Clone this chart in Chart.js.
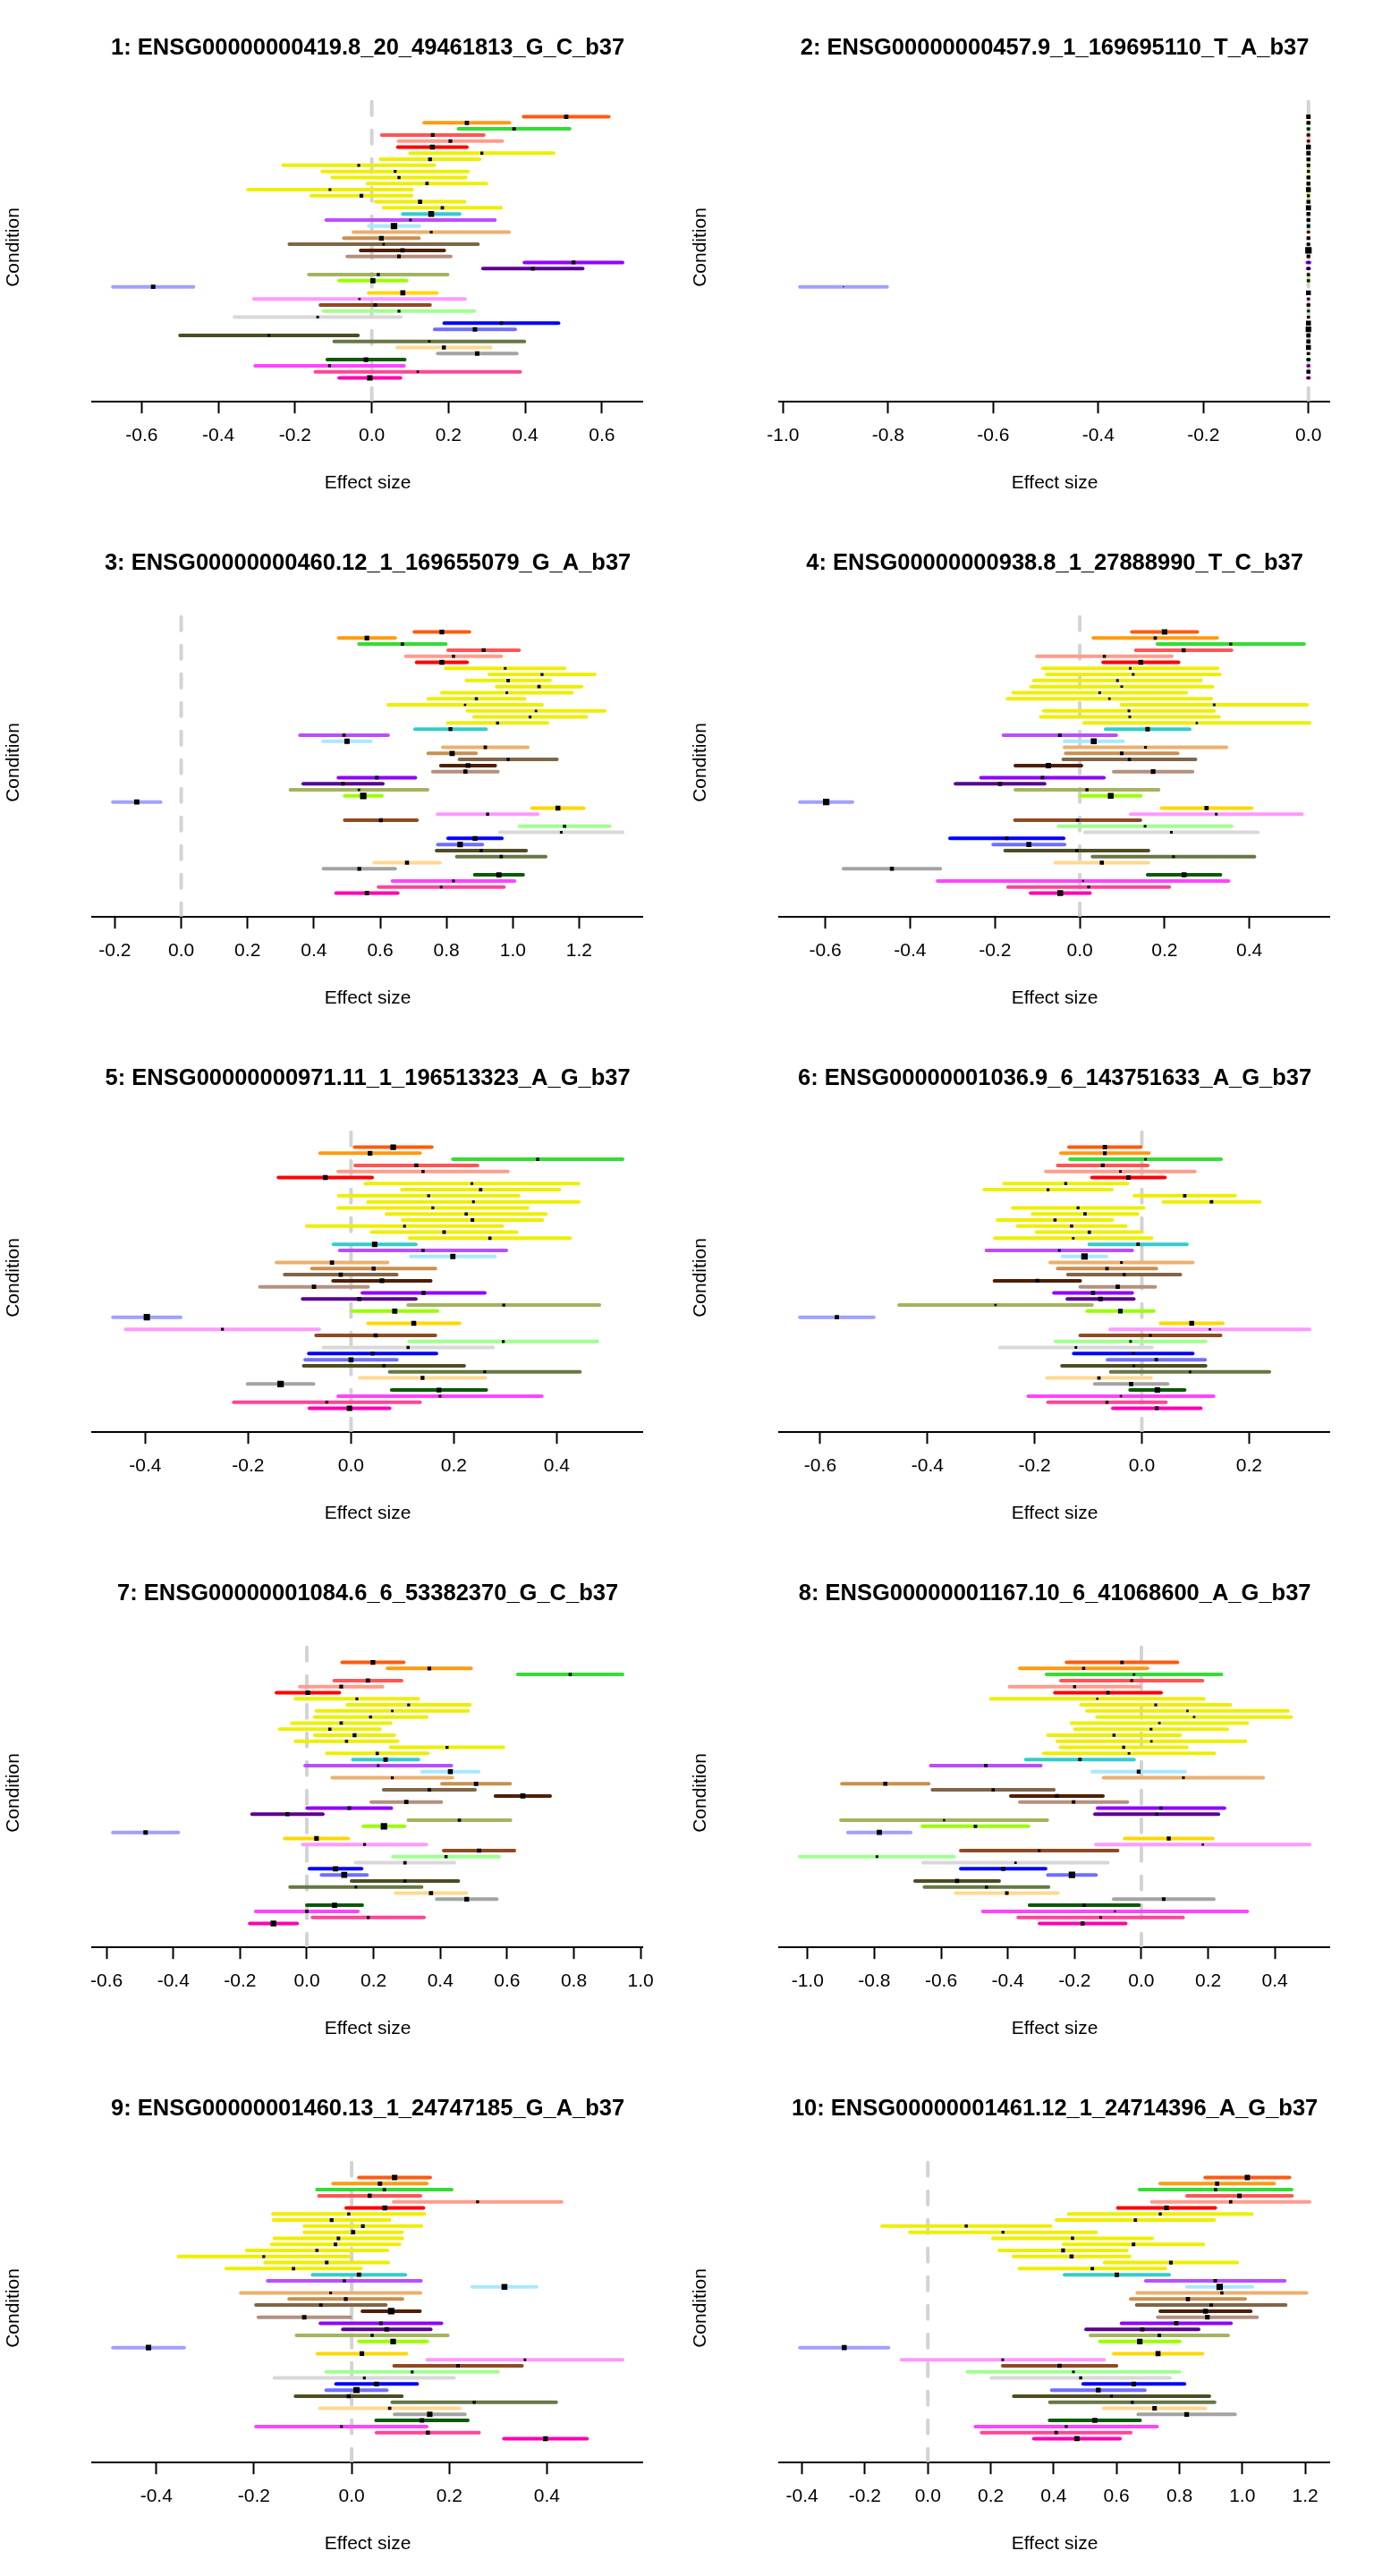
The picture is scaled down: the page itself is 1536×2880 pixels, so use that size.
<!DOCTYPE html>
<html>
<head>
<meta charset="utf-8">
<script src="https://cdn.jsdelivr.net/npm/chart.js@4.4.1/dist/chart.umd.min.js"></script>
<style>
html,body{margin:0;padding:0;background:#ffffff;}
#wrap{position:relative;width:1536px;height:2880px;background:#ffffff;overflow:hidden;}
#wrap canvas{position:absolute;}
</style>
</head>
<body>
<div id="wrap"></div>
<script>
// ---------------- DATA ----------------
const tissues = ["Adipose_Subcutaneous","Adipose_Visceral_Omentum","Adrenal_Gland","Artery_Aorta","Artery_Coronary","Artery_Tibial",
"Brain_Anterior_cingulate_cortex_BA24","Brain_Caudate_basal_ganglia","Brain_Cerebellar_Hemisphere","Brain_Cerebellum","Brain_Cortex",
"Brain_Frontal_Cortex_BA9","Brain_Hippocampus","Brain_Hypothalamus","Brain_Nucleus_accumbens_basal_ganglia","Brain_Putamen_basal_ganglia",
"Breast_Mammary_Tissue","Cells_EBV-transformed_lymphocytes","Cells_Transformed_fibroblasts","Colon_Sigmoid","Colon_Transverse",
"Esophagus_Gastroesophageal_Junction","Esophagus_Mucosa","Esophagus_Muscularis","Heart_Atrial_Appendage","Heart_Left_Ventricle",
"Liver","Lung","Muscle_Skeletal","Nerve_Tibial","Ovary","Pancreas","Pituitary","Prostate","Skin_Not_Sun_Exposed_Suprapubic",
"Skin_Sun_Exposed_Lower_leg","Small_Intestine_Terminal_Ileum","Spleen","Stomach","Testis","Thyroid","Uterus","Vagina","Whole_Blood"];

const panelTitles = [
"1: ENSG00000000419.8_20_49461813_G_C_b37",
"2: ENSG00000000457.9_1_169695110_T_A_b37",
"3: ENSG00000000460.12_1_169655079_G_A_b37",
"4: ENSG00000000938.8_1_27888990_T_C_b37",
"5: ENSG00000000971.11_1_196513323_A_G_b37",
"6: ENSG00000001036.9_6_143751633_A_G_b37",
"7: ENSG00000001084.6_6_53382370_G_C_b37",
"8: ENSG00000001167.10_6_41068600_A_G_b37",
"9: ENSG00000001460.13_1_24747185_G_A_b37",
"10: ENSG00000001461.12_1_24714396_A_G_b37"];

const xAxisTitle = "Effect size";
const yAxisTitle = "Condition";

// effect estimates (mean) and 95% CI half-widths per panel
const p1Mean = [0.507,0.248,0.371,0.159,0.205,0.158,0.287,0.152,-0.034,0.061,0.071,0.144,-0.109,-0.027,0.126,0.184,0.155,0.101,0.058,0.155,0.025,0.031,0.080,0.071,0.526,0.420,0.017,0.003,-0.570,0.081,-0.032,0.009,0.071,-0.141,0.338,0.269,-0.268,0.150,0.188,0.275,-0.015,-0.110,0.120,-0.005];
const p1Half = [0.111,0.111,0.145,0.133,0.135,0.090,0.187,0.129,0.197,0.190,0.174,0.155,0.214,0.131,0.116,0.153,0.074,0.220,0.066,0.203,0.098,0.246,0.109,0.135,0.128,0.130,0.181,0.088,0.105,0.089,0.275,0.143,0.197,0.217,0.149,0.105,0.232,0.248,0.122,0.103,0.101,0.194,0.267,0.080];

const p2Mean = [0,0,0,0,0,0,0,0,0,0,0,0,0,0,0,0,0,0,0,0,0,0,0,0,0,0,0,0,-0.885,0,0,0,0,0,0,0,0,0,0,0,0,0,0,0];
const p2Half = [0.00066,0.00076,0.00126,0.00126,0.00126,0.00058,0.00066,0.00076,0.0009,0.0012,0.00076,0.00076,0.00058,0.0012,0.00076,0.00054,0.00076,0.00086,0.0009,0.0013,0.00086,0.0011,0.0004,0.0009,0.0022,0.0013,0.0012,0.0012,0.083,0.00058,0.0013,0.0011,0.0013,0.0011,0.00056,0.00048,0.00072,0.00072,0.00056,0.0012,0.0013,0.0014,0.00076,0.0013];

const p3Mean = [0.786,0.560,0.667,0.912,0.821,0.786,0.977,1.088,0.986,1.079,0.982,0.890,0.856,1.070,1.052,0.954,0.812,0.491,0.500,0.917,0.817,0.986,0.865,0.857,0.590,0.488,0.536,0.549,-0.134,1.136,0.924,0.602,1.156,1.146,0.886,0.841,0.905,0.965,0.681,0.537,0.958,0.821,0.784,0.560];
const p3Half = [0.083,0.085,0.131,0.107,0.144,0.076,0.179,0.159,0.126,0.128,0.196,0.145,0.232,0.207,0.169,0.150,0.107,0.133,0.072,0.128,0.072,0.147,0.082,0.098,0.116,0.120,0.207,0.056,0.072,0.078,0.151,0.109,0.136,0.185,0.081,0.067,0.135,0.134,0.099,0.108,0.073,0.184,0.189,0.093];

const p4Mean = [0.200,0.178,0.356,0.245,0.058,0.144,0.119,0.126,0.089,0.099,0.047,0.070,0.317,0.116,0.118,0.276,0.160,-0.047,0.033,0.155,0.099,0.117,-0.074,0.173,-0.088,-0.188,0.017,0.073,-0.598,0.299,0.322,-0.005,0.154,0.216,-0.172,-0.120,-0.007,0.221,0.052,-0.443,0.246,0.008,0.021,-0.046];
const p4Half = [0.077,0.146,0.173,0.113,0.159,0.089,0.206,0.204,0.197,0.214,0.204,0.240,0.219,0.201,0.210,0.266,0.099,0.133,0.069,0.191,0.132,0.156,0.078,0.093,0.145,0.105,0.169,0.071,0.062,0.106,0.202,0.148,0.204,0.204,0.134,0.084,0.169,0.191,0.110,0.114,0.086,0.343,0.190,0.070];

const p5Mean = [0.082,0.037,0.363,0.127,0.140,-0.050,0.235,0.252,0.151,0.238,0.159,0.224,0.236,0.104,0.181,0.270,0.046,0.140,0.198,-0.037,0.044,-0.020,0.060,-0.072,0.141,0.016,0.297,0.085,-0.397,0.122,-0.250,0.048,0.296,0.111,0.042,0.000,0.064,0.260,0.139,-0.137,0.171,0.173,-0.047,-0.003];
const p5Half = [0.075,0.097,0.165,0.119,0.165,0.091,0.207,0.153,0.175,0.205,0.184,0.155,0.136,0.190,0.141,0.156,0.080,0.162,0.082,0.108,0.120,0.109,0.095,0.105,0.119,0.110,0.186,0.083,0.066,0.089,0.188,0.116,0.183,0.165,0.124,0.089,0.156,0.185,0.122,0.064,0.092,0.198,0.181,0.078];

const p6Mean = [-0.069,-0.069,0.007,-0.073,-0.040,-0.025,-0.142,-0.175,0.080,0.130,-0.119,-0.106,-0.162,-0.131,-0.098,-0.128,-0.007,-0.154,-0.107,-0.038,-0.065,-0.033,-0.195,-0.045,-0.091,-0.077,-0.273,-0.040,-0.569,0.093,0.127,0.016,-0.021,-0.123,-0.016,0.027,-0.015,0.090,-0.080,-0.020,0.029,-0.039,-0.065,0.028];
const p6Half = [0.067,0.082,0.141,0.084,0.139,0.068,0.115,0.119,0.094,0.090,0.122,0.098,0.107,0.101,0.098,0.146,0.091,0.136,0.041,0.133,0.092,0.105,0.080,0.070,0.073,0.062,0.180,0.062,0.069,0.058,0.186,0.131,0.140,0.142,0.111,0.091,0.134,0.148,0.097,0.068,0.051,0.173,0.110,0.082];

const p7Mean = [0.198,0.367,0.789,0.183,0.103,0.003,0.150,0.305,0.256,0.191,0.103,0.069,0.143,0.119,0.420,0.211,0.236,0.214,0.430,0.256,0.507,0.367,0.647,0.298,0.127,-0.058,0.457,0.231,-0.483,0.029,0.173,0.516,0.417,0.294,0.086,0.112,0.294,0.147,0.372,0.479,0.083,0.000,0.184,-0.100];
const p7Half = [0.092,0.125,0.157,0.101,0.124,0.094,0.184,0.184,0.227,0.168,0.148,0.150,0.119,0.153,0.169,0.151,0.098,0.219,0.085,0.180,0.102,0.137,0.082,0.105,0.126,0.106,0.153,0.062,0.098,0.095,0.185,0.106,0.159,0.148,0.078,0.068,0.160,0.197,0.106,0.090,0.083,0.153,0.167,0.071];

const p8Mean = [-0.058,-0.173,-0.022,-0.029,-0.200,-0.100,-0.132,0.043,0.138,0.158,0.054,0.029,-0.082,0.030,-0.053,-0.037,-0.184,-0.466,-0.008,0.126,-0.767,-0.444,-0.253,-0.203,0.059,0.046,-0.591,-0.497,-0.785,0.082,0.184,-0.306,-0.792,-0.377,-0.414,-0.208,-0.552,-0.464,-0.403,0.067,-0.171,-0.079,-0.122,-0.176];
const p8Half = [0.166,0.191,0.262,0.212,0.195,0.159,0.319,0.224,0.301,0.291,0.263,0.228,0.198,0.282,0.189,0.255,0.162,0.165,0.139,0.239,0.130,0.182,0.138,0.161,0.190,0.185,0.309,0.159,0.094,0.132,0.320,0.235,0.231,0.277,0.127,0.072,0.126,0.186,0.153,0.150,0.164,0.396,0.247,0.129];

const p9Mean = [0.088,0.058,0.067,0.037,0.258,0.068,-0.006,-0.041,0.023,0.003,-0.027,-0.033,-0.071,-0.180,-0.051,-0.119,0.015,-0.015,0.313,-0.043,-0.012,-0.063,0.081,-0.097,0.060,0.072,0.042,0.085,-0.416,0.021,0.355,0.218,0.124,0.026,0.051,0.010,-0.006,0.251,0.078,0.160,0.144,-0.021,0.156,0.397];
const p9Half = [0.073,0.096,0.138,0.104,0.172,0.079,0.155,0.119,0.120,0.100,0.131,0.131,0.144,0.175,0.126,0.138,0.095,0.157,0.066,0.184,0.116,0.133,0.059,0.094,0.124,0.090,0.155,0.070,0.073,0.091,0.200,0.131,0.176,0.184,0.083,0.062,0.109,0.168,0.143,0.072,0.094,0.175,0.105,0.085];

const p10Mean = [1.016,0.920,0.915,0.991,0.963,0.759,0.739,0.660,0.122,0.239,0.460,0.654,0.430,0.457,0.773,0.523,0.601,0.914,0.928,0.935,0.827,0.901,0.883,0.889,0.790,0.682,0.736,0.674,-0.266,0.732,0.238,0.419,0.463,0.486,0.655,0.542,0.584,0.650,0.721,0.823,0.531,0.440,0.408,0.474];
const p10Half = [0.134,0.181,0.242,0.167,0.251,0.155,0.291,0.251,0.268,0.296,0.253,0.222,0.203,0.185,0.211,0.232,0.166,0.221,0.104,0.269,0.182,0.237,0.144,0.158,0.174,0.179,0.219,0.127,0.141,0.141,0.322,0.181,0.337,0.284,0.161,0.148,0.311,0.262,0.162,0.154,0.144,0.289,0.237,0.137];

// x-axis tick labels per panel
const p1Ticks = [-0.6,-0.4,-0.2,0.0,0.2,0.4,0.6];
const p2Ticks = [-1.0,-0.8,-0.6,-0.4,-0.2,0.0];
const p3Ticks = [-0.2,0.0,0.2,0.4,0.6,0.8,1.0,1.2];
const p4Ticks = [-0.6,-0.4,-0.2,0.0,0.2,0.4];
const p5Ticks = [-0.4,-0.2,0.0,0.2,0.4];
const p6Ticks = [-0.6,-0.4,-0.2,0.0,0.2];
const p7Ticks = [-0.6,-0.4,-0.2,0.0,0.2,0.4,0.6,0.8,1.0];
const p8Ticks = [-1.0,-0.8,-0.6,-0.4,-0.2,0.0,0.2,0.4];
const p9Ticks = [-0.4,-0.2,0.0,0.2,0.4];
const p10Ticks = [-0.4,-0.2,0.0,0.2,0.4,0.6,0.8,1.0,1.2];

// ---------------- STYLE ----------------
const tissueColors = ["#FF5A0F","#FF9A0F","#33DD33","#FF5555","#FF9C8C","#FF0000",
"#EEEE00","#EEEE00","#EEEE00","#EEEE00","#EEEE00","#EEEE00","#EEEE00","#EEEE00","#EEEE00","#EEEE00",
"#33CCCC","#BB4DFF","#A8E8FF","#EBB06E","#C98F50","#806548","#4F1F05","#B3907F","#9000FF","#5A0090",
"#A3B35E","#99FF00","#A0A0FF","#FFD700","#FF99FF","#8F4A22","#A0FF90","#D8D8D8","#0000FF","#6E6EFF",
"#4D4D22","#667744","#FFD890","#A3A3A3","#0A5A0A","#FF44FF","#FF4499","#FF00B0"];
const FONT = "'Liberation Sans', Arial, Helvetica, sans-serif";
const PANEL_W = 768, PANEL_H = 576;

// ---------------- BUILD ----------------
const allMeans = [p1Mean,p2Mean,p3Mean,p4Mean,p5Mean,p6Mean,p7Mean,p8Mean,p9Mean,p10Mean];
const allHalves = [p1Half,p2Half,p3Half,p4Half,p5Half,p6Half,p7Half,p8Half,p9Half,p10Half];
const allTicks = [p1Ticks,p2Ticks,p3Ticks,p4Ticks,p5Ticks,p6Ticks,p7Ticks,p8Ticks,p9Ticks,p10Ticks];

const wrap = document.getElementById('wrap');
const nRows = tissues.length;
// R-style row range: rows 1..n plus room, with 4% expansion
const yLo = -2 - 0.04 * (nRows + 3);
const yHi = (nRows + 1) + 0.04 * (nRows + 3);

function fmt(v){ const r = Math.round(v*10)/10; return (Math.abs(r) < 1e-9 ? 0 : r).toFixed(1); }

allMeans.forEach((mean, k) => {
  const half = allHalves[k];
  const ticks = allTicks[k];
  const lows = mean.map((m,i)=>m-half[i]);
  const highs = mean.map((m,i)=>m+half[i]);
  const lo = Math.min(...lows), hi = Math.max(...highs);
  const pad = 0.04 * (hi - lo);
  const xMin = lo - pad, xMax = hi + pad;
  const minHalf = Math.min(...half);
  const radii = half.map(h => (1.2 + 6.0 * (minHalf / h)) / Math.SQRT2);

  const canvas = document.createElement('canvas');
  canvas.width = PANEL_W; canvas.height = PANEL_H;
  canvas.style.left = ((k % 2) * PANEL_W) + 'px';
  canvas.style.top = (Math.floor(k / 2) * PANEL_H) + 'px';
  canvas.style.width = PANEL_W + 'px'; canvas.style.height = PANEL_H + 'px';
  wrap.appendChild(canvas);

  const datasets = [];
  // zero reference line (dashed, drawn from bottom to top)
  datasets.push({
    type:'line', data:[{x:0,y:yHi},{x:0,y:yLo}],
    borderColor:'#D3D3D3', borderWidth:4, borderDash:[15,17], borderCapStyle:'round',
    pointRadius:0, pointHoverRadius:0, fill:false, tension:0, order:3
  });
  // confidence interval segments
  mean.forEach((m,i) => {
    datasets.push({
      type:'line', label: tissues[i], data:[{x:lows[i],y:i},{x:highs[i],y:i}],
      borderColor: tissueColors[i], borderWidth:4, borderCapStyle:'round',
      pointRadius:0, pointHoverRadius:0, fill:false, tension:0, order:2
    });
  });
  // point estimates (boxes sized by precision)
  datasets.push({
    type:'line', showLine:false, data: mean.map((m,i)=>({x:m,y:i})),
    pointStyle:'rect', pointRadius: radii, pointHoverRadius: radii,
    pointBackgroundColor:'#000000', pointBorderColor:'#000000', pointBorderWidth:0,
    order:1
  });

  new Chart(canvas, {
    type:'line',
    data:{ datasets },
    options:{
      responsive:false, maintainAspectRatio:false, animation:false, devicePixelRatio:1,
      events:[],
      layout:{ padding:{ left:0, right:49.2, top:0, bottom:0 } },
      plugins:{
        legend:{display:false}, tooltip:{enabled:false},
        title:{
          display:true, text: panelTitles[k], fullSize:false, align:'center', color:'#000000',
          font:{ family:FONT, size:25.5, weight:'bold', lineHeight:1.2 },
          padding:{ top:38.7, bottom:34.9 }
        }
      },
      scales:{
        x:{
          type:'linear', position:'bottom', min:xMin, max:xMax, offset:false,
          afterBuildTicks: s => { s.ticks = ticks.map(v => ({value:v})); },
          afterFit: s => { s.height = 127.2; },
          grid:{ display:true, drawOnChartArea:false, drawTicks:true, tickLength:13.4, tickWidth:2, tickColor:'#000000' },
          border:{ display:true, color:'#000000', width:2 },
          ticks:{ color:'#000000', font:{ family:FONT, size:21 }, padding:12, maxRotation:0, autoSkip:false, callback: v => fmt(v) },
          title:{ display:true, text:xAxisTitle, color:'#000000', font:{ family:FONT, size:21, lineHeight:1.2 }, padding:{ top:0, bottom:23.4 } }
        },
        y:{
          type:'linear', position:'left', reverse:true, min:yLo, max:yHi,
          afterFit: s => { s.width = 103.4; },
          grid:{ display:false, drawTicks:false }, border:{ display:false },
          ticks:{ display:false },
          title:{ display:true, text:yAxisTitle, color:'#000000', font:{ family:FONT, size:21, lineHeight:1.2 }, padding:{ top:2.2, bottom:0 } }
        }
      }
    }
  });
});
</script>
</body>
</html>
